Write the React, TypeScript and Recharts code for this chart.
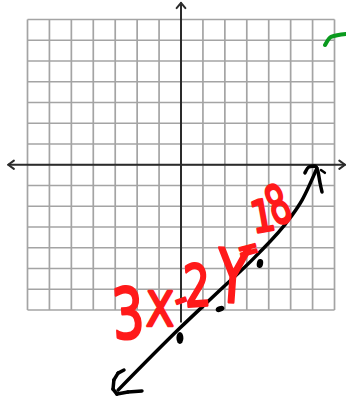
import { ComposedChart, Line, XAxis, YAxis, ReferenceLine, ReferenceDot } from "recharts";

// graph paper: 14 x 14 squares, axes through the middle
const gridTicks = [-7, -6, -5, -4, -3, -2, -1, 0, 1, 2, 3, 4, 5, 6, 7];

// hand-drawn line for 3x - 2y = 18
const lineX = [-2.87, -0.05, 1.64, 3.37, 4.97, 5.52, 6.2];
const lineY = [-10.86, -7.87, -6.18, -4.45, -2.57, -1.7, -0.16];

// arrowhead scribble at the lower-left end
const arrowX = [-2.6, -2.87, -3.06, -3.1, -2.92, -2.42, -1.78];
const arrowY = [-9.89, -10.04, -10.37, -10.81, -11.05, -10.95, -10.9];

// the little "x" scribble at the top end
const hookX = [5.65, 5.84, 6.11, 6.25, 6.34, 6.43];
const hookY = [-0.39, -0.1, -0.06, -0.35, -0.88, -1.31];
const tickX = [6.38, 6.56];
const tickY = [-0.25, -0.39];

// green pen mark, top right
const greenX = [6.57, 6.84, 7.52];
const greenY = [5.77, 6.16, 6.3];

// plotted points marked on the line
const markX = [-0.05, 1.78, 3.6];
const markY = [-8.35, -6.95, -4.76];

// handwritten equation
const equation = ["3", "X", "-", "2", "Y", "=", "1", "8"];

const toPts = (xs: number[], ys: number[]) => xs.map((x, i) => ({ x, y: ys[i] }));

// placement of each handwritten glyph (data coords), size, x-squash, rotation
const glyphLayout = [
  { x: -2.42, y: -7.14, size: 70, sx: 0.72, rot: -4 },
  { x: -0.96, y: -6.95, size: 48, sx: 0.85, rot: 0 },
  { x: -0.05, y: -6.4, size: 40, sx: 0.9, rot: -20 },
  { x: 0.73, y: -5.8, size: 58, sx: 0.72, rot: -4 },
  { x: 2.37, y: -5.35, size: 74, sx: 0.7, rot: 4 },
  { x: 3.05, y: -4.05, size: 28, sx: 0.9, rot: -15 },
  { x: 3.72, y: -2.45, size: 44, sx: 0.85, rot: -10 },
  { x: 4.42, y: -1.9, size: 54, sx: 0.62, rot: -22 },
];

const markShapes = [
  { rx: 3.5, ry: 6, rot: 0 },
  { rx: 4.5, ry: 2.8, rot: -20 },
  { rx: 3.2, ry: 4.5, rot: 10 },
];

const INK = "#000";
const RED = "#ff1a1a";
const GRID = "#a4a4a4";
const AXIS = "#2b2b2b";

const penProps = {
  dataKey: "y",
  dot: false,
  activeDot: false,
  isAnimationActive: false,
  strokeLinecap: "round" as const,
  strokeLinejoin: "round" as const,
};

export default function App() {
  const arrowPts = toPts(arrowX, arrowY);
  return (
    <div style={{ position: "absolute", left: 0, top: 0, width: 346, height: 409, background: "#fff" }}>
      <ComposedChart width={346} height={409} margin={{ top: 0, right: 0, bottom: 0, left: 0 }}>
        <XAxis type="number" dataKey="x" domain={[-8.254, 7.524]} hide allowDataOverflow />
        <YAxis type="number" dataKey="y" domain={[-11.77, 7.94]} hide allowDataOverflow />

        {gridTicks.map((t) => (
          <ReferenceLine key={"v" + t} segment={[{ x: t, y: -7 }, { x: t, y: 7 }]} stroke={GRID} strokeWidth={1.7} />
        ))}
        {gridTicks.map((t) => (
          <ReferenceLine key={"h" + t} segment={[{ x: -7, y: t }, { x: 7, y: t }]} stroke={GRID} strokeWidth={1.7} />
        ))}

        {/* axes with arrowheads */}
        <ReferenceLine segment={[{ x: -7.88, y: 0 }, { x: 7.48, y: 0 }]} stroke={AXIS} strokeWidth={2} />
        <ReferenceLine segment={[{ x: -7.88, y: 0 }, { x: -7.62, y: 0.2 }]} stroke={AXIS} strokeWidth={2} strokeLinecap="round" />
        <ReferenceLine segment={[{ x: -7.88, y: 0 }, { x: -7.62, y: -0.2 }]} stroke={AXIS} strokeWidth={2} strokeLinecap="round" />
        <ReferenceLine segment={[{ x: 7.48, y: 0 }, { x: 7.22, y: 0.2 }]} stroke={AXIS} strokeWidth={2} strokeLinecap="round" />
        <ReferenceLine segment={[{ x: 7.48, y: 0 }, { x: 7.22, y: -0.2 }]} stroke={AXIS} strokeWidth={2} strokeLinecap="round" />
        <ReferenceLine segment={[{ x: 0, y: -7.6 }, { x: 0, y: 7.8 }]} stroke={AXIS} strokeWidth={2} />
        <ReferenceLine segment={[{ x: 0, y: 7.8 }, { x: -0.2, y: 7.55 }]} stroke={AXIS} strokeWidth={2} strokeLinecap="round" />
        <ReferenceLine segment={[{ x: 0, y: 7.8 }, { x: 0.2, y: 7.55 }]} stroke={AXIS} strokeWidth={2} strokeLinecap="round" />

        {/* red handwritten equation */}
        {equation.map((ch, i) => {
          const g = glyphLayout[i];
          return (
            <ReferenceDot
              key={"g" + i}
              x={g.x}
              y={g.y}
              r={0}
              shape={(p: any) => (
                <text
                  transform={`translate(${p.cx},${p.cy}) rotate(${g.rot}) scale(${g.sx},1)`}
                  x={0}
                  y={g.size * 0.36}
                  textAnchor="middle"
                  fontFamily="DejaVu Sans, sans-serif"
                  fontSize={g.size}
                  fill={RED}
                  stroke={RED}
                  strokeWidth={2.6}
                  strokeLinejoin="round"
                >
                  {ch}
                </text>
              )}
            />
          );
        })}

        <Line {...penProps} data={toPts(lineX, lineY)} type="monotone" stroke={INK} strokeWidth={3.5} />
        {arrowPts.slice(1).map((pt, i) => (
          <ReferenceLine
            key={"a" + i}
            segment={[arrowPts[i], pt]}
            stroke={INK}
            strokeWidth={3.5}
            strokeLinecap="round"
          />
        ))}
        <Line {...penProps} data={toPts(hookX, hookY)} type="monotone" stroke={INK} strokeWidth={3.5} />
        <Line {...penProps} data={toPts(tickX, tickY)} type="linear" stroke={INK} strokeWidth={2.5} />
        <Line {...penProps} data={toPts(greenX, greenY)} type="monotone" stroke="#0a9a1e" strokeWidth={4} />

        {markX.map((x, i) => (
          <ReferenceDot
            key={"m" + i}
            x={x}
            y={markY[i]}
            r={0}
            shape={(p: any) => (
              <ellipse
                cx={p.cx}
                cy={p.cy}
                rx={markShapes[i].rx}
                ry={markShapes[i].ry}
                transform={`rotate(${markShapes[i].rot} ${p.cx} ${p.cy})`}
                fill={INK}
              />
            )}
          />
        ))}
      </ComposedChart>
    </div>
  );
}
